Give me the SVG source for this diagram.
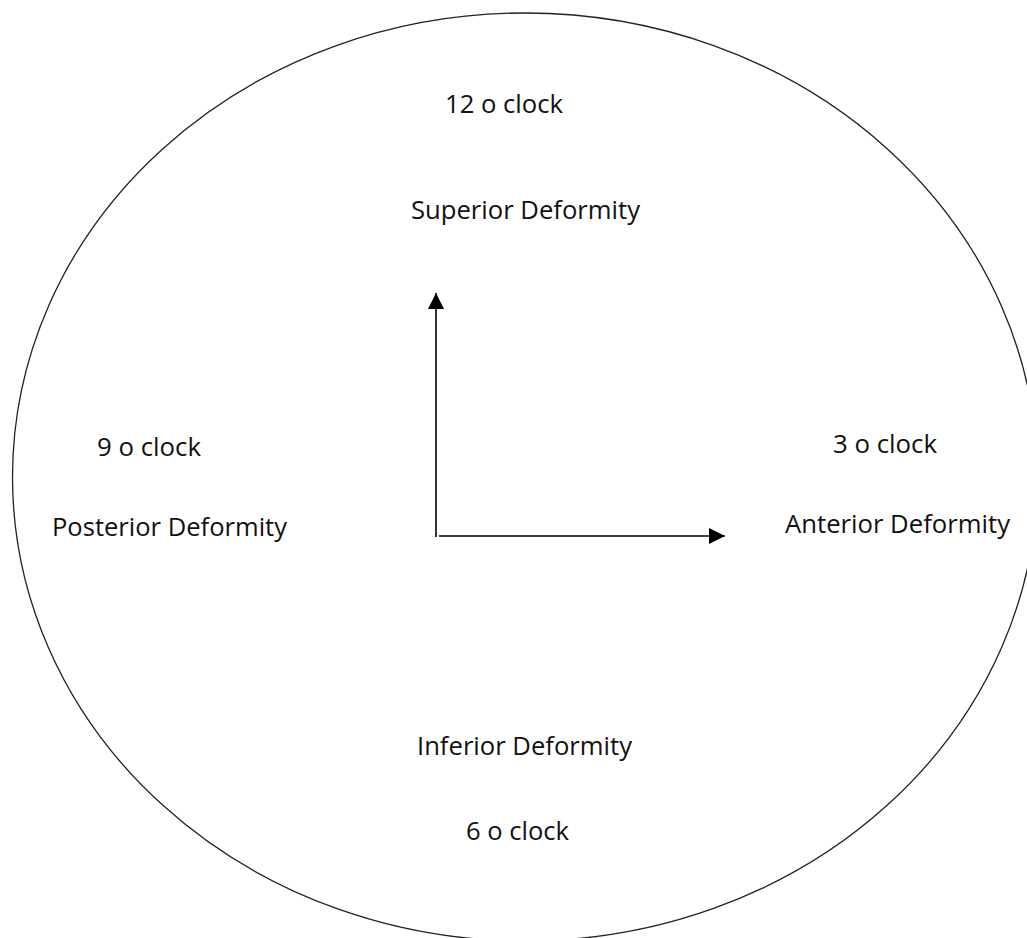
<svg xmlns="http://www.w3.org/2000/svg" width="1027" height="938" viewBox="0 0 1027 938">
<style>
text{font-family:"Open Sans","Noto Sans","Liberation Sans",sans-serif;font-size:25px;fill:#111;text-anchor:middle}
.ring{fill:none;stroke:#222;stroke-width:1.3}
.conn{stroke:#000;stroke-width:1.6;fill:none}
</style>
<defs>
<marker id="ah" viewBox="0 0 10 10" refX="10" refY="5" markerUnits="userSpaceOnUse" markerWidth="16" markerHeight="16" orient="auto">
<path d="M0,0 L10,5 L0,10 Z" fill="#000"/>
</marker>
</defs>
<rect width="1027" height="938" fill="#fff"/>
<g id="clock"><ellipse class="ring" cx="525" cy="477" rx="512.5" ry="464"/></g>
<g id="connectors">
<line class="conn" x1="436" y1="537" x2="436" y2="293" marker-end="url(#ah)"/>
<line class="conn" x1="439" y1="536" x2="725" y2="536" marker-end="url(#ah)"/>
</g>
<g id="n12"><text x="504" y="113" textLength="118" lengthAdjust="spacingAndGlyphs">12 o clock</text></g>
<g id="nsup"><text x="525.5" y="219" textLength="229" lengthAdjust="spacingAndGlyphs">Superior Deformity</text></g>
<g id="n9"><text x="149" y="456" textLength="104" lengthAdjust="spacingAndGlyphs">9 o clock</text></g>
<g id="npost"><text x="169.5" y="536" textLength="235" lengthAdjust="spacingAndGlyphs">Posterior Deformity</text></g>
<g id="n3"><text x="885" y="453" textLength="104" lengthAdjust="spacingAndGlyphs">3 o clock</text></g>
<g id="nant"><text x="897.5" y="533" textLength="225" lengthAdjust="spacingAndGlyphs">Anterior Deformity</text></g>
<g id="ninf"><text x="524.5" y="755" textLength="215" lengthAdjust="spacingAndGlyphs">Inferior Deformity</text></g>
<g id="n6"><text x="517.5" y="840" textLength="103" lengthAdjust="spacingAndGlyphs">6 o clock</text></g>
</svg>
